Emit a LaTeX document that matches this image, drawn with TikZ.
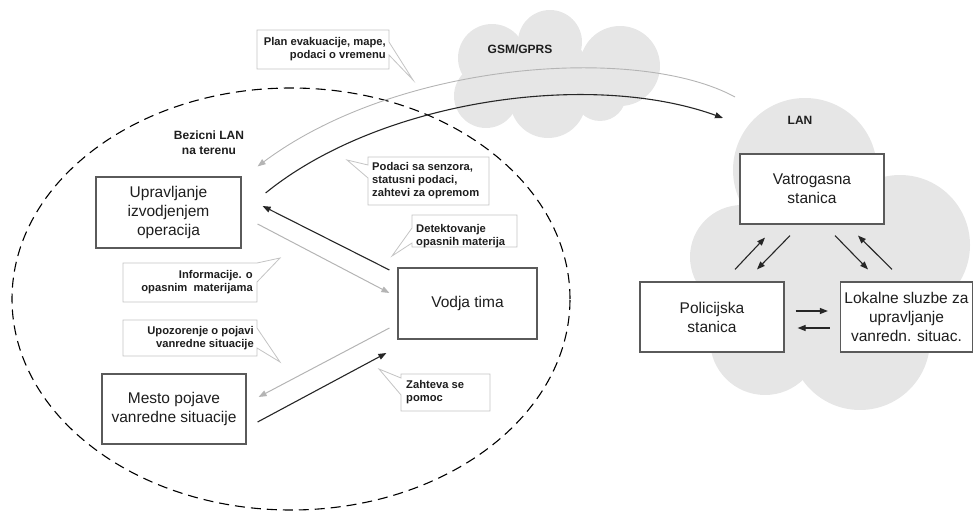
\documentclass[tikz,border=0pt]{standalone}
\usepackage{fontspec}
\setmainfont{Liberation Sans}
\usetikzlibrary{arrows.meta,calc}
\definecolor{cloudgray}{HTML}{E6E6E6}
\definecolor{arrgray}{HTML}{B4B4B4}
\definecolor{boxline}{HTML}{5A5A5A}
\definecolor{callline}{HTML}{C4C4C4}
\definecolor{txt}{HTML}{1E1E1E}
\begin{document}
\begin{tikzpicture}[x=1pt,y=-1pt,
  mainbox/.style={draw=boxline, line width=1.2pt, fill=white, inner sep=0pt, align=center, text=txt, font=\fontsize{15.5}{19}\selectfont},
  calltext/.style={inner sep=0pt, font=\fontsize{11.2}{13}\selectfont\bfseries, text=txt},
  callbox/.style={draw=callline, line width=0.8pt, fill=white, line join=miter},
  blk/.style={-{Triangle[length=8pt,width=6pt]}, line width=1.1pt, draw=black!85},
  gry/.style={-{Triangle[length=8pt,width=6pt]}, line width=1pt, draw=arrgray},
  lbl/.style={font=\fontsize{12}{15}\selectfont\bfseries, text=txt, align=center, inner sep=0pt},
  cloud/.style={fill=cloudgray}]
\useasboundingbox (0,0) rectangle (974,513);

% GSM/GPRS cloud
\fill[cloud] (492,58) circle[radius=34pt];
\fill[cloud] (550,42) circle[radius=32pt];
\fill[cloud] (620,66) circle[radius=40pt];
\fill[cloud] (486,96) circle[radius=32pt];
\fill[cloud] (548,100) circle[radius=38pt];
\fill[cloud] (600,95) circle[radius=26pt];
\fill[cloud] (550,75) circle[radius=40pt];

% LAN cloud
\fill[cloud] (805,170) circle[radius=72pt];
\fill[cloud] (900,245) circle[radius=70pt];
\fill[cloud] (742,257) circle[radius=52pt];
\fill[cloud] (765,340) circle[radius=55pt];
\fill[cloud] (860,340) circle[radius=70pt];
\fill[cloud] (820,270) circle[radius=80pt];

% dashed field LAN ellipse
\draw[line width=1.1pt, dash pattern=on 10pt off 6pt] (291,299) ellipse [x radius=279pt, y radius=211pt];

% callouts
\draw[callbox] (257,30) -- (389,30) -- (389,42) -- (413,80) -- (389,55) -- (389,69) -- (257,69) -- cycle;
\draw[callbox] (368,157) -- (489,157) -- (489,205) -- (368,205) -- (368,178) -- (347,160) -- (368,165) -- cycle;
\draw[callbox] (412,215) -- (517,215) -- (517,247) -- (412,247) -- (412,243) -- (392,256) -- (412,228) -- cycle;
\draw[callbox] (123,263) -- (257,263) -- (280,258) -- (257,282) -- (257,302) -- (123,302) -- cycle;
\draw[callbox] (123,320) -- (257,320) -- (257,328) -- (280,362) -- (257,348) -- (257,356) -- (123,356) -- cycle;
\draw[callbox] (401,374) -- (490,374) -- (490,411) -- (401,411) -- (401,395) -- (379,369) -- (401,378) -- cycle;

\node[calltext, anchor=east, align=right] (t1) at (386,49.5) {Plan evakuacije, mape,\\podaci o vremenu};
\node[calltext, anchor=west, align=left] (t2) at (372,180.5) {Podaci sa senzora,\\statusni podaci,\\zahtevi za opremom};
\node[calltext, anchor=west, align=left] (t3) at (416,236) {Detektovanje\\opasnih materija};
\node[calltext, anchor=east, align=right] (t4) at (253,282) {Informacije. o\\opasnim\ \ materijama};
\node[calltext, anchor=east, align=right] (t5) at (254,338.5) {Upozorenje o pojavi\\vanredne situacije};
\node[calltext, anchor=west, align=left] (t6) at (406,392.5) {Zahteva se\\pomoc};

% labels
\node[lbl] (bez) at (209,143) {Bezicni LAN\\na terenu};
\node[lbl] (gsm) at (520,49) {GSM/GPRS};
\node[lbl] (lan) at (800,120) {LAN};

% main boxes
\node[mainbox, minimum width=145pt, minimum height=71pt] (upr) at (168.5,212.5) {Upravljanje\\izvodjenjem\\operacija};
\node[mainbox, minimum width=139pt, minimum height=71pt] (vod) at (467.5,303.5) {Vodja tima};
\node[mainbox, minimum width=144pt, minimum height=70pt] (mes) at (174,409) {Mesto pojave\\vanredne situacije};
\node[mainbox, minimum width=144pt, minimum height=70pt] (vat) at (812,189) {Vatrogasna\\stanica};
\node[mainbox, minimum width=144pt, minimum height=70pt] (pol) at (712,317) {Policijska\\stanica};
\node[mainbox, minimum width=132pt, minimum height=70pt] (lok) at (906.5,317) {Lokalne sluzbe za\\upravljanje\\vanredn. situac.};

% field arrows
\draw[gry] ($(upr.east)+(16,11.5)$) -- ($(vod.west)+(-8,-10.5)$);
\draw[blk] ($(vod.west)+(-8,-33.5)$) -- ($(upr.east)+(21,-6.5)$);
\draw[gry] ($(vod.west)+(-8,24.5)$) -- ($(mes.east)+(12,-12)$);
\draw[blk] ($(mes.east)+(11,13)$) -- ($(vod.west)+(-11,49.5)$);

% long-range links
\coordinate (gsrc) at (735,97);
\coordinate (lanin) at (723,118);
\draw[gry, line width=0.9pt] (gsrc) .. controls (640,45) and (400,60) .. ($(upr.north east)+(16,-10)$);
\draw[blk] ($(upr.east)+(24,-19.5)$) .. controls (380,100) and (590,70) .. (lanin);

% LAN arrows
\draw[blk] ($(pol.north)+(23,-12)$) -- ($(vat.south)+(-47,13)$);
\draw[blk] ($(vat.south)+(-22,11)$) -- ($(pol.north)+(45,-12)$);
\draw[blk] ($(vat.south)+(23,11)$) -- ($(lok.north)+(-38.5,-12)$);
\draw[blk] ($(lok.north)+(-14.5,-12)$) -- ($(vat.south)+(46,11)$);
\draw[blk] ($(pol.east)+(11,-6)$) -- ($(lok.west)+(-12,-6)$);
\draw[blk] ($(lok.west)+(-10,11)$) -- ($(pol.east)+(13,11)$);
\end{tikzpicture}
\end{document}
